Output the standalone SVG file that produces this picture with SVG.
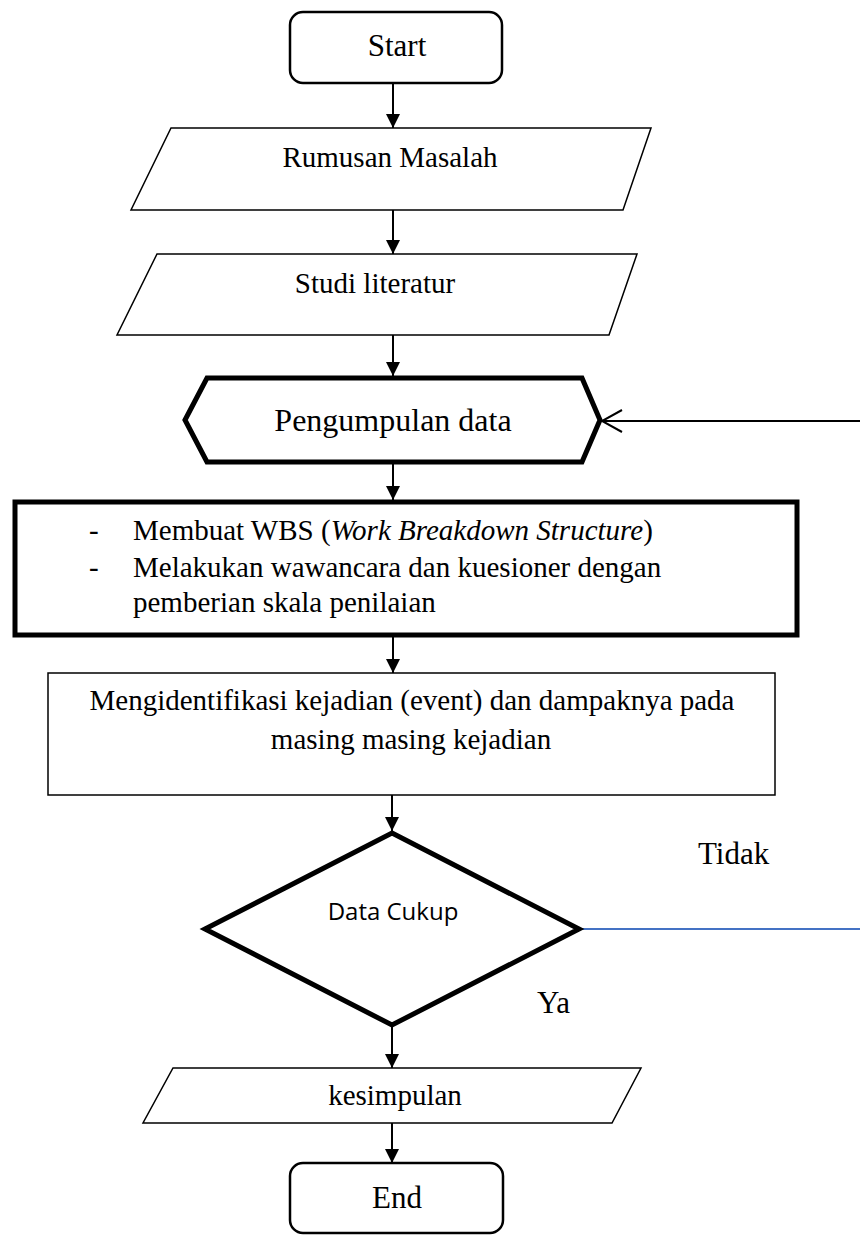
<svg xmlns="http://www.w3.org/2000/svg" width="860" height="1235" viewBox="0 0 860 1235">
<defs>
<style>
.t{font-family:"Liberation Serif","Times New Roman",serif;fill:#000}
.s{font-family:"Open Sans","Liberation Sans",sans-serif;fill:#000}
.term{fill:#fff;stroke:#000;stroke-width:2.5}
.io{fill:#fff;stroke:#000;stroke-width:1.5}
.thick{fill:#fff;stroke:#000;stroke-width:5;stroke-linejoin:miter}
.proc{fill:#fff;stroke:#000;stroke-width:1.5}
.c{fill:none;stroke:#000;stroke-width:2}
</style>
<marker id="ah" viewBox="0 0 14 14" refX="14" refY="7" markerWidth="14" markerHeight="14" markerUnits="userSpaceOnUse" orient="auto">
<path d="M0,0 L14,7 L0,14 z" fill="#000"/>
</marker>
<marker id="oa" viewBox="0 0 24 26" refX="22" refY="13" markerWidth="24" markerHeight="26" markerUnits="userSpaceOnUse" orient="auto">
<path d="M2,2 L22,13 L2,24" fill="none" stroke="#000" stroke-width="2"/>
</marker>
</defs>
<rect width="860" height="1235" fill="#fff"/>

<g id="connectors">
<path class="c" d="M393,83 V128" marker-end="url(#ah)"/>
<path class="c" d="M393,210 V254" marker-end="url(#ah)"/>
<path class="c" d="M393,335 V376" marker-end="url(#ah)"/>
<path class="c" d="M393,464 V500" marker-end="url(#ah)"/>
<path class="c" d="M393,637 V673" marker-end="url(#ah)"/>
<path class="c" d="M392,795 V831" marker-end="url(#ah)"/>
<path class="c" d="M392,1027 V1068" marker-end="url(#ah)"/>
<path class="c" d="M392,1123 V1163" marker-end="url(#ah)"/>
<path class="c" d="M860,421 H602" marker-end="url(#oa)"/>
<path d="M581,929 H860" fill="none" stroke="#4472C4" stroke-width="2"/>
</g>

<g id="start">
<rect class="term" x="290" y="12" width="212" height="71" rx="13"/>
<text class="t" x="397" y="56" font-size="31" text-anchor="middle">Start</text>
</g>

<g id="rumusan">
<polygon class="io" points="171,128 651,128 623,210 131,210"/>
<text class="t" x="390" y="167" font-size="29" text-anchor="middle">Rumusan Masalah</text>
</g>

<g id="studi">
<polygon class="io" points="157,254 637,254 609,335 117,335"/>
<text class="t" x="375" y="293" font-size="29" text-anchor="middle">Studi literatur</text>
</g>

<g id="pengumpulan">
<polygon class="thick" points="185,420 207,378 582,378 600,420 582,462 207,462"/>
<text class="t" x="393" y="431" font-size="32" text-anchor="middle">Pengumpulan data</text>
</g>

<g id="wbs">
<rect class="thick" x="15" y="502" width="782" height="133"/>
<text class="t" x="89" y="540" font-size="29">-</text>
<text class="t" x="133" y="540" font-size="29">Membuat WBS (<tspan font-style="italic">Work Breakdown Structure</tspan>)</text>
<text class="t" x="89" y="577" font-size="29">-</text>
<text class="t" x="133" y="577" font-size="29">Melakukan wawancara dan kuesioner dengan</text>
<text class="t" x="133" y="612" font-size="29">pemberian skala penilaian</text>
</g>

<g id="identifikasi">
<rect class="proc" x="48" y="673" width="727" height="122"/>
<text class="t" x="412" y="710" font-size="29" text-anchor="middle">Mengidentifikasi kejadian (event) dan dampaknya pada</text>
<text class="t" x="411" y="749" font-size="29" text-anchor="middle">masing masing kejadian</text>
</g>

<g id="decision">
<polygon class="thick" points="392,833 579,929 392,1025 205,929"/>
<text class="s" x="393" y="920" font-size="24" text-anchor="middle">Data Cukup</text>
</g>

<g id="label-tidak">
<text class="t" x="698" y="864" font-size="31">Tidak</text>
</g>
<g id="label-ya">
<text class="t" x="537" y="1013" font-size="31">Ya</text>
</g>

<g id="kesimpulan">
<polygon class="io" points="173,1068 641,1068 612,1123 143,1123"/>
<text class="t" x="395" y="1105" font-size="29" text-anchor="middle">kesimpulan</text>
</g>

<g id="end">
<rect class="term" x="290" y="1163" width="213" height="70" rx="13"/>
<text class="t" x="397" y="1208" font-size="31" text-anchor="middle">End</text>
</g>
</svg>
